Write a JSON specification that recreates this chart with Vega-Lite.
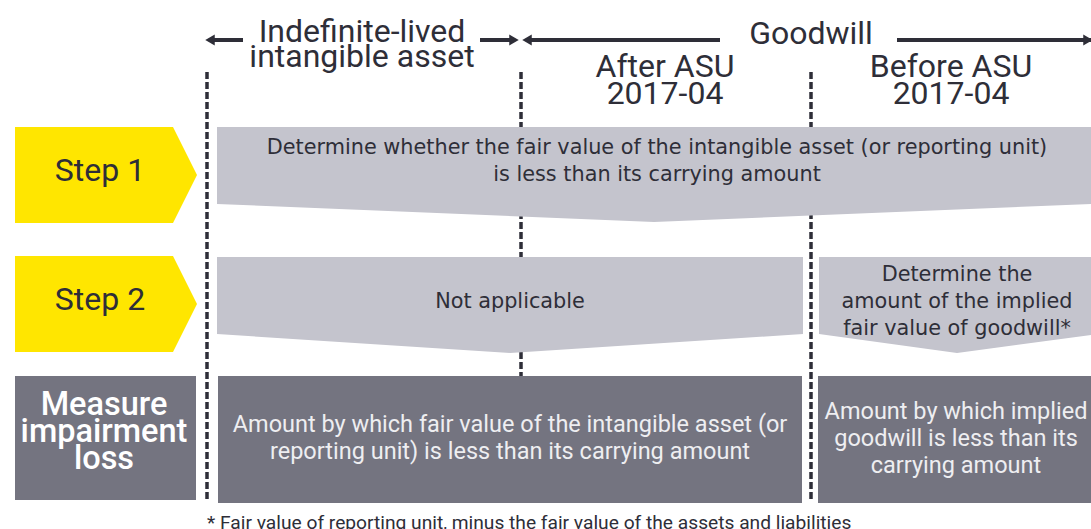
{
  "$schema": "https://vega.github.io/schema/vega-lite/v6.json",
  "width": 1091,
  "height": 529,
  "padding": 0,
  "autosize": {"type": "none"},
  "background": "#ffffff",
  "config": {"view": {"stroke": null}},
  "datasets": {
    "dividers": [
      {"x": 207, "top": 72, "bottom": 502},
      {"x": 521, "top": 72, "bottom": 376},
      {"x": 811, "top": 72, "bottom": 502}
    ],
    "arrowLines": [
      {"x1": 212, "x2": 243, "y": 40},
      {"x1": 480, "x2": 514, "y": 40},
      {"x1": 527, "x2": 720, "y": 40},
      {"x1": 897, "x2": 1091, "y": 40}
    ],
    "arrowHeads": [
      {"x": 210, "y": 40, "dir": "left"},
      {"x": 514, "y": 40, "dir": "right"},
      {"x": 527, "y": 40, "dir": "left"},
      {"x": 1088, "y": 40, "dir": "right"}
    ],
    "stepBoxes": [
      {"shape": "step1", "x": 217, "top": 127, "bottom": 204},
      {"shape": "step1", "x": 654, "top": 127, "bottom": 222},
      {"shape": "step1", "x": 1091, "top": 127, "bottom": 204},
      {"shape": "step2a", "x": 217, "top": 257, "bottom": 334},
      {"shape": "step2a", "x": 510, "top": 257, "bottom": 353},
      {"shape": "step2a", "x": 803, "top": 257, "bottom": 334},
      {"shape": "step2b", "x": 819, "top": 257, "bottom": 334},
      {"shape": "step2b", "x": 957, "top": 257, "bottom": 353},
      {"shape": "step2b", "x": 1091, "top": 257, "bottom": 335}
    ],
    "chevrons": [
      {"shape": "c1", "y": 127, "left": 15, "right": 173},
      {"shape": "c1", "y": 175, "left": 15, "right": 197},
      {"shape": "c1", "y": 223, "left": 15, "right": 173},
      {"shape": "c2", "y": 256, "left": 15, "right": 173},
      {"shape": "c2", "y": 304, "left": 15, "right": 197},
      {"shape": "c2", "y": 352, "left": 15, "right": 173}
    ],
    "darkBoxes": [
      {"x1": 15, "x2": 196, "y1": 376, "y2": 500},
      {"x1": 218, "x2": 802, "y1": 376, "y2": 503},
      {"x1": 818, "x2": 1091, "y1": 376, "y2": 503}
    ],
    "headers": [
      {"x": 362, "y": 42, "text": "Indefinite-lived"},
      {"x": 362, "y": 67, "text": "intangible asset"},
      {"x": 811, "y": 44, "text": "Goodwill"},
      {"x": 665, "y": 77, "text": "After ASU"},
      {"x": 665, "y": 104, "text": "2017-04"},
      {"x": 951, "y": 77, "text": "Before ASU"},
      {"x": 951, "y": 104, "text": "2017-04"}
    ],
    "steps": [
      {"x": 100, "y": 181, "text": "Step 1"},
      {"x": 100, "y": 310, "text": "Step 2"}
    ],
    "bodyText": [
      {"x": 657, "y": 154, "text": "Determine whether the fair value of the intangible asset (or reporting unit)"},
      {"x": 657, "y": 181, "text": "is less than its carrying amount"},
      {"x": 510, "y": 308, "text": "Not applicable"},
      {"x": 957, "y": 281, "text": "Determine the"},
      {"x": 957, "y": 308, "text": "amount of the implied"},
      {"x": 957, "y": 335, "text": "fair value of goodwill*"}
    ],
    "darkText": [
      {"x": 510, "y": 432, "text": "Amount by which fair value of the intangible asset (or"},
      {"x": 510, "y": 459, "text": "reporting unit) is less than its carrying amount"},
      {"x": 956, "y": 419, "text": "Amount by which implied"},
      {"x": 956, "y": 446, "text": "goodwill is less than its"},
      {"x": 956, "y": 473, "text": "carrying amount"}
    ],
    "measureText": [
      {"x": 104, "y": 415, "text": "Measure"},
      {"x": 104, "y": 442, "text": "impairment"},
      {"x": 104, "y": 469, "text": "loss"}
    ],
    "footnote": [
      {"x": 207, "y": 529, "text": "* Fair value of reporting unit, minus the fair value of the assets and liabilities"}
    ]
  },
  "layer": [
    {
      "data": {"name": "dividers"},
      "mark": {"type": "rule", "stroke": "#2E2E38", "strokeWidth": 3.5, "strokeDash": [7, 3]},
      "encoding": {
        "x": {"field": "x", "type": "quantitative", "scale": {"domain": [0, 1091], "nice": false, "zero": false}, "axis": null},
        "y": {"field": "top", "type": "quantitative", "scale": {"domain": [0, 529], "nice": false, "zero": false, "reverse": true}, "axis": null},
        "y2": {"field": "bottom"}
      }
    },
    {
      "data": {"name": "arrowLines"},
      "mark": {"type": "rule", "stroke": "#2E2E38", "strokeWidth": 4},
      "encoding": {
        "x": {"field": "x1", "type": "quantitative", "axis": null},
        "x2": {"field": "x2"},
        "y": {"field": "y", "type": "quantitative", "axis": null}
      }
    },
    {
      "data": {"name": "arrowHeads"},
      "mark": {"type": "point", "filled": true, "fill": "#2E2E38", "opacity": 1, "size": 120, "strokeWidth": 0},
      "encoding": {
        "x": {"field": "x", "type": "quantitative", "axis": null},
        "y": {"field": "y", "type": "quantitative", "axis": null},
        "shape": {"field": "dir", "type": "nominal", "scale": {"domain": ["left", "right"], "range": ["triangle-left", "triangle-right"]}, "legend": null}
      }
    },
    {
      "data": {"name": "stepBoxes"},
      "mark": {"type": "area", "fill": "#C4C4CD", "opacity": 1, "interpolate": "linear"},
      "encoding": {
        "x": {"field": "x", "type": "quantitative", "axis": null},
        "y": {"field": "top", "type": "quantitative", "axis": null},
        "y2": {"field": "bottom"},
        "detail": {"field": "shape", "type": "nominal"}
      }
    },
    {
      "data": {"name": "chevrons"},
      "mark": {"type": "area", "orient": "horizontal", "fill": "#FFE600", "opacity": 1, "interpolate": "linear"},
      "encoding": {
        "y": {"field": "y", "type": "quantitative", "axis": null},
        "x": {"field": "left", "type": "quantitative", "axis": null},
        "x2": {"field": "right"},
        "detail": {"field": "shape", "type": "nominal"}
      }
    },
    {
      "data": {"name": "darkBoxes"},
      "mark": {"type": "rect", "fill": "#747480"},
      "encoding": {
        "x": {"field": "x1", "type": "quantitative", "axis": null},
        "x2": {"field": "x2"},
        "y": {"field": "y1", "type": "quantitative", "axis": null},
        "y2": {"field": "y2"}
      }
    },
    {
      "data": {"name": "headers"},
      "mark": {"type": "text", "font": "Roboto", "fontSize": 32, "fill": "#2E2E38", "align": "center", "baseline": "alphabetic"},
      "encoding": {
        "x": {"field": "x", "type": "quantitative", "axis": null},
        "y": {"field": "y", "type": "quantitative", "axis": null},
        "text": {"field": "text"}
      }
    },
    {
      "data": {"name": "steps"},
      "mark": {"type": "text", "font": "Roboto", "fontSize": 32, "fill": "#2E2E38", "align": "center", "baseline": "alphabetic"},
      "encoding": {
        "x": {"field": "x", "type": "quantitative", "axis": null},
        "y": {"field": "y", "type": "quantitative", "axis": null},
        "text": {"field": "text"}
      }
    },
    {
      "data": {"name": "bodyText"},
      "mark": {"type": "text", "font": "DejaVu Sans", "fontSize": 20.8, "fill": "#2E2E38", "align": "center", "baseline": "alphabetic"},
      "encoding": {
        "x": {"field": "x", "type": "quantitative", "axis": null},
        "y": {"field": "y", "type": "quantitative", "axis": null},
        "text": {"field": "text"}
      }
    },
    {
      "data": {"name": "darkText"},
      "mark": {"type": "text", "font": "Roboto", "fontSize": 23.5, "fill": "#EEEEF1", "align": "center", "baseline": "alphabetic"},
      "encoding": {
        "x": {"field": "x", "type": "quantitative", "axis": null},
        "y": {"field": "y", "type": "quantitative", "axis": null},
        "text": {"field": "text"}
      }
    },
    {
      "data": {"name": "measureText"},
      "mark": {"type": "text", "font": "Roboto", "fontSize": 32.5, "fontWeight": 500, "fill": "#FFFFFF", "align": "center", "baseline": "alphabetic"},
      "encoding": {
        "x": {"field": "x", "type": "quantitative", "axis": null},
        "y": {"field": "y", "type": "quantitative", "axis": null},
        "text": {"field": "text"}
      }
    },
    {
      "data": {"name": "footnote"},
      "mark": {"type": "text", "font": "Roboto", "fontSize": 19.2, "fill": "#2E2E38", "align": "left", "baseline": "alphabetic"},
      "encoding": {
        "x": {"field": "x", "type": "quantitative", "axis": null},
        "y": {"field": "y", "type": "quantitative", "axis": null},
        "text": {"field": "text"}
      }
    }
  ]
}
